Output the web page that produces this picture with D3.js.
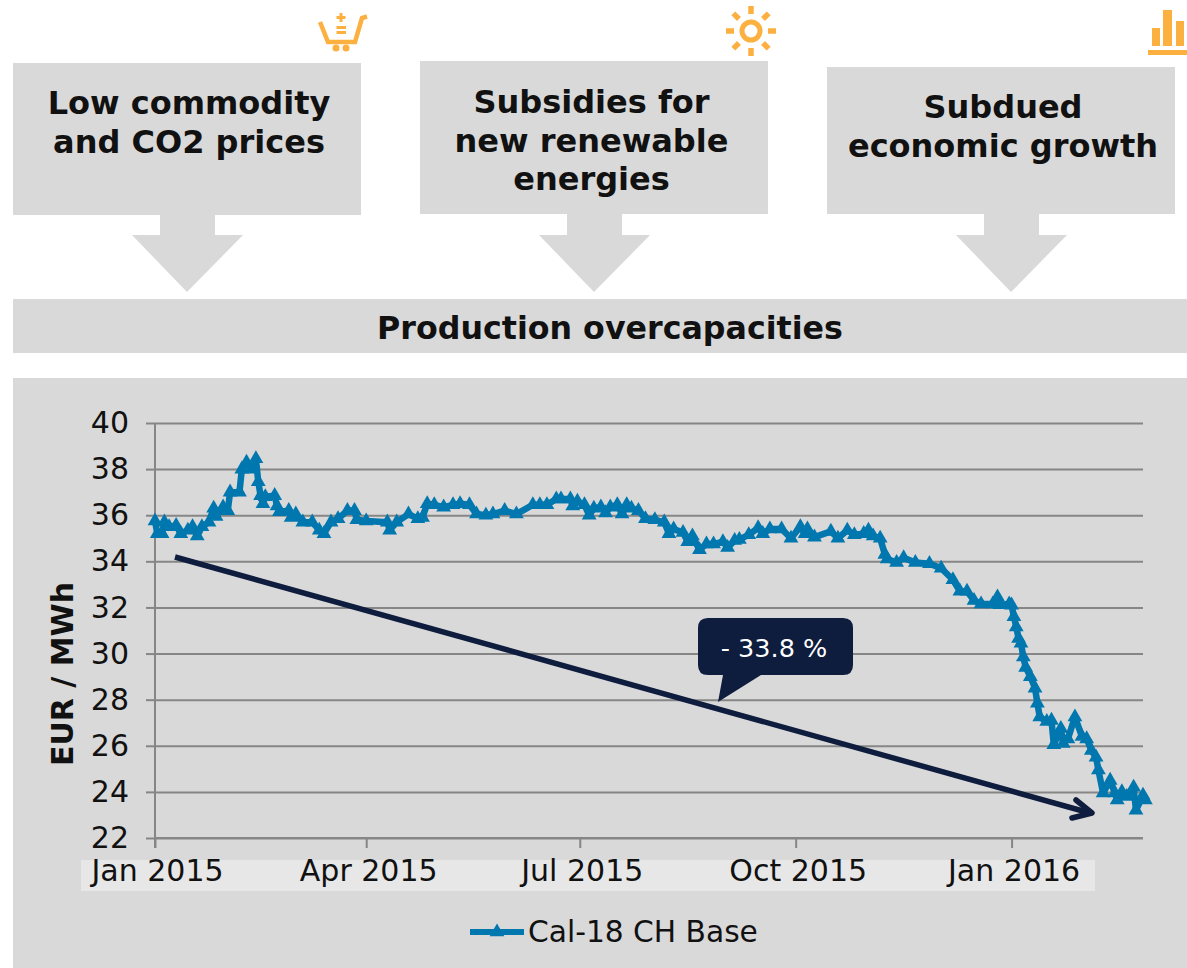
<!DOCTYPE html>
<html><head><meta charset="utf-8">
<script src="https://cdn.jsdelivr.net/npm/d3@7"></script>
<style>html,body{margin:0;padding:0;background:#fff}svg{display:block}text{font-family:"DejaVu Sans",Verdana,sans-serif}</style>
</head><body><div id="c"></div>
<script>
const seriesName = "Cal-18 CH Base";
const startDate = "2015-01-01";
const dayOffsets = [0,1,3,4,6,9,11,14,16,18,20,23,25,26,29,31,32,36,37,39,41,43,44,45,46,47,51,52,53,57,58,60,63,67,70,72,75,78,82,85,86,90,99,100,103,108,112,114,116,119,123,127,130,134,137,141,144,149,154,161,
164,167,171,173,177,178,180,183,185,187,190,192,194,197,199,201,203,206,209,213,217,219,221,225,227,229,232,235,238,242,244,247,249,253,257,259,262,267,271,275,277,278,281,288,291,295,298,302,304,306,309,311,312,316,319,324,330,335,
340,343,346,349,352,357,359,360,364,365,366,367,368,369,370,371,373,375,376,377,380,382,383,386,387,389,392,395,397,399,401,402,404,407,409,410,412,414,417,418,421,422];
const prices = [35.75,35.2,35.2,35.7,35.5,35.55,35.2,35.35,35.5,35.1,35.5,35.7,36.3,35.95,36.35,36.2,37,37,38,38.3,38,38.45,37.45,36.85,36.5,36.8,36.85,36.4,36.15,36.2,35.9,36.05,35.7,35.7,35.35,35.2,35.7,35.85,36.2,36.2,35.8,35.75,35.7,35.35,35.7,36.05,35.85,35.9,36.5,36.45,36.35,36.45,36.5,36.45,36.05,36,36.05,36.2,36.05,36.45,
36.45,36.45,36.7,36.7,36.7,36.4,36.6,36.45,36,36.3,36.35,36.1,36.35,36.45,36.05,36.45,36.3,36.2,35.85,35.8,35.7,35.2,35.4,35.25,34.85,35.1,34.5,34.75,34.75,34.85,34.6,34.9,34.95,35.15,35.45,35.2,35.4,35.4,35,35.5,35.2,35.4,35.05,35.3,35,35.35,35.15,35.2,35.35,35.1,35,34.3,34.1,33.95,34.15,33.95,33.9,33.7,
33.2,32.7,32.7,32.3,32.15,32.15,32.45,32.12,32.15,32.1,31.6,31.15,30.65,30.45,29.85,29.4,29,28.5,27.85,27.25,27.05,27.1,26.05,26.75,26.1,26.3,27.25,26.4,26.3,25.8,25.5,24.95,23.95,24.5,23.95,23.65,24,23.8,24.2,23.2,23.85,23.65,23.55];
const yTicks = [22,24,26,28,30,32,34,36,38,40];
const xTickDates = ["2015-01-01","2015-04-01","2015-07-01","2015-10-01","2016-01-01"];
const boxes = [
 {lines:["Low commodity","and CO2 prices"],x:13,y:63,w:348,h:152,first:114,cx:189,ax:187},
 {lines:["Subsidies for","new renewable","energies"],x:420,y:61,w:348,h:153,first:113,cx:591.5,ax:594},
 {lines:["Subdued","economic growth"],x:827,y:67,w:348,h:147,first:118,cx:1003,ax:1011}
];
const banner = "Production overcapacities";
const callout = "- 33.8 %";
const yTitle = "EUR / MWh";

const W=1187,H=968, grey="#d9d9d9", orange="#fbb040", navy="#0e1c3e", blue="#0077ae", gridC="#868686";
const svg=d3.select("#c").append("svg").attr("width",W).attr("height",H);

boxes.forEach(b=>{
  svg.append("rect").attr("x",b.x).attr("y",b.y).attr("width",b.w).attr("height",b.h).attr("fill",grey);
  const a=b.ax, yb=b.y+b.h;
  svg.append("path").attr("fill",grey).attr("d",`M${a-27},${yb}L${a+28},${yb}L${a+28},235L${a+56},235L${a},292L${a-55},235L${a-27},235Z`);
  b.lines.forEach((t,i)=>svg.append("text").attr("x",b.cx).attr("y",b.first+i*38.5)
    .attr("text-anchor","middle").attr("font-size",32).attr("font-weight","bold").attr("fill","#111").text(t));
});
svg.append("rect").attr("x",13).attr("y",299).attr("width",1174).attr("height",54).attr("fill",grey);
svg.append("text").attr("x",610).attr("y",339).attr("text-anchor","middle").attr("font-size",31.7).attr("font-weight","bold").attr("fill","#111").text(banner);

// icons
const ic=svg.append("g").attr("fill","none").attr("stroke",orange);
ic.append("path").attr("stroke-width",4.5).attr("d","M320,22L328,42H355L362,18L367,16.5");
ic.append("path").attr("stroke-width",3).attr("d","M341,13V22M336.5,17.5H345.5M336.5,27.5H346M336.5,32.5H346");
ic.append("g").selectAll("circle").data([336,346]).join("circle").attr("cx",d=>d).attr("cy",48).attr("r",3.5).attr("fill",orange).attr("stroke","none");
ic.append("circle").attr("cx",751).attr("cy",31).attr("r",9).attr("stroke-width",5);
ic.append("g").selectAll("line").data(d3.range(8)).join("line").attr("stroke-width",5.5)
  .attr("x1",d=>751+17*Math.cos(d*Math.PI/4)).attr("y1",d=>31+17*Math.sin(d*Math.PI/4))
  .attr("x2",d=>751+25*Math.cos(d*Math.PI/4)).attr("y2",d=>31+25*Math.sin(d*Math.PI/4));
const bi=svg.append("g").attr("fill",orange);
[[1152,28,8,18],[1163,10,9,36],[1176,21,8,25],[1148,50,39,5]].forEach(r=>bi.append("rect").attr("x",r[0]).attr("y",r[1]).attr("width",r[2]).attr("height",r[3]));

// chart panel
svg.append("rect").attr("x",13).attr("y",378).attr("width",1174).attr("height",590).attr("fill",grey);
svg.append("rect").attr("x",81).attr("y",860).attr("width",1014).attr("height",31).attr("fill","#e7e7e7");

const parse=d3.utcParse("%Y-%m-%d");
const t0=parse(startDate);
const x=d3.scaleUtc().domain([t0,parse("2016-02-26")]).range([155,1143]);
const y=d3.scaleLinear().domain([22,40]).range([838,423]);
const dates=dayOffsets.map(d=>d3.utcDay.offset(t0,d));
const pts=dates.map((d,i)=>[d,prices[i]]);

const gy=svg.append("g").attr("transform","translate(155,0)")
  .call(d3.axisLeft(y).tickValues(yTicks).tickSize(9).tickPadding(17).tickFormat(d3.format("d")));
gy.select(".domain").attr("stroke",gridC).attr("stroke-width",2).attr("d","M0,423V848");
gy.selectAll("line").attr("stroke",gridC).attr("stroke-width",2);
gy.selectAll("text").attr("font-size",30).attr("fill","#111").attr("font-family","DejaVu Sans");
const grid=svg.append("g").attr("transform","translate(155,0)")
  .call(d3.axisLeft(y).tickValues(yTicks).tickSize(-988).tickFormat(""));
grid.select(".domain").remove();
grid.selectAll("line").attr("stroke",gridC).attr("stroke-width",2);

const gx=svg.append("g").attr("transform","translate(0,838)")
  .call(d3.axisBottom(x).tickValues(xTickDates.map(parse)).tickSize(10).tickPadding(12).tickFormat(d3.utcFormat("%b %Y")));
gx.select(".domain").attr("stroke",gridC).attr("stroke-width",2).attr("d","M155,0H1143");
gx.selectAll("line").attr("stroke",gridC).attr("stroke-width",2);
gx.selectAll("text").attr("font-size",30).attr("dx",2).attr("fill","#111").attr("font-family","DejaVu Sans");

svg.append("text").attr("transform","translate(73,674) rotate(-90)").attr("text-anchor","middle")
  .attr("font-size",30).attr("font-weight","bold").attr("fill","#111").text(yTitle);

// series
const line=d3.line().x(d=>x(d[0])).y(d=>y(d[1]));
svg.append("path").datum(pts).attr("fill","none").attr("stroke",blue).attr("stroke-width",6.5).attr("stroke-linejoin","round").attr("d",line);
const tri=d3.symbol().type(d3.symbolTriangle).size(95);
svg.append("g").selectAll("path").data(pts).join("path").attr("d",tri).attr("fill",blue)
  .attr("transform",d=>`translate(${x(d[0])},${y(d[1])})`);

// trend arrow
svg.append("path").attr("fill","none").attr("stroke",navy).attr("stroke-width",5.5).attr("d","M175,557L1090,813");
svg.append("path").attr("fill","none").attr("stroke",navy).attr("stroke-width",5.5).attr("stroke-linecap","round").attr("stroke-linejoin","round").attr("d","M1076,800L1092,813L1072,818");

// callout
svg.append("path").attr("fill",navy).attr("d","M708,618H843Q853,618 853,628V665Q853,675 843,675H761L718,702L723,675H708Q698,675 698,665V628Q698,618 708,618Z");
svg.append("text").attr("x",774).attr("y",657).attr("text-anchor","middle").attr("font-size",25.5).attr("fill","#fff").text(callout);

// legend
svg.append("line").attr("x1",470).attr("x2",524).attr("y1",932).attr("y2",932).attr("stroke",blue).attr("stroke-width",6);
svg.append("path").attr("d",tri).attr("fill",blue).attr("transform","translate(497,932)");
svg.append("text").attr("x",528).attr("y",942).attr("font-size",29.7).attr("fill","#111").text(seriesName);
</script></body></html>
